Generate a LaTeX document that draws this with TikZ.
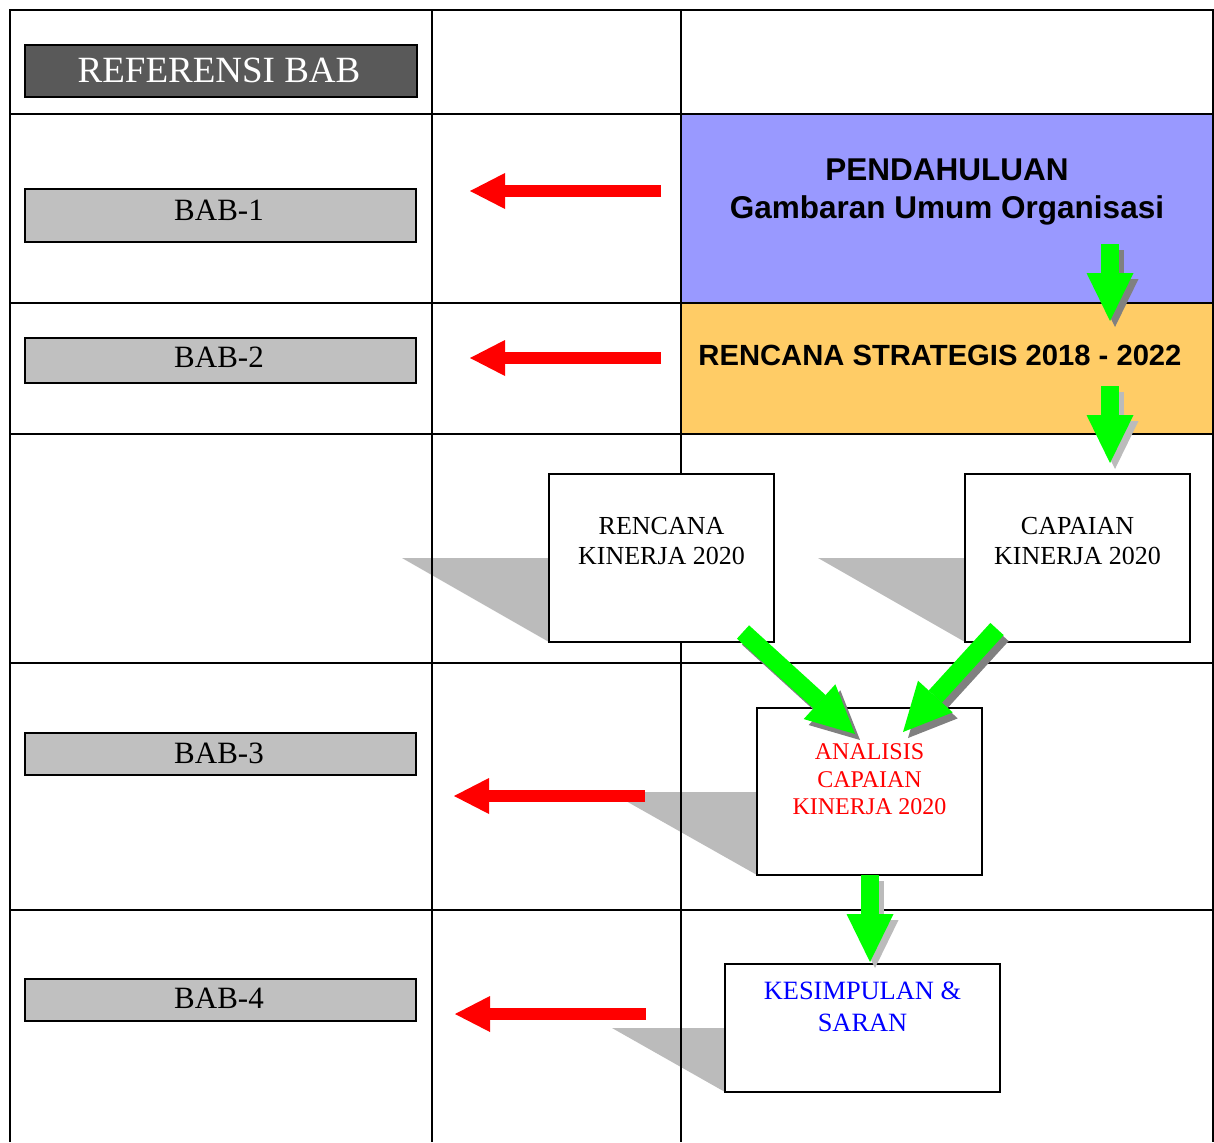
\documentclass[tikz,border=0pt]{standalone}
\usepackage{fontspec}
\setmainfont{Liberation Serif}
\newfontfamily\arialfont{Liberation Sans}
\usetikzlibrary{arrows.meta}
\definecolor{purp}{HTML}{9999FF}
\definecolor{oran}{HTML}{FFCC66}
\definecolor{grn}{HTML}{00FF00}
\definecolor{babgray}{HTML}{C0C0C0}
\definecolor{refgray}{HTML}{595959}
\definecolor{shadegray}{HTML}{BBBBBB}
\definecolor{darkshade}{HTML}{808080}
\begin{document}
\begin{tikzpicture}[x=1pt,y=-1pt,
  grid/.style={draw=black, line width=2pt},
  babbox/.style={draw=black, line width=2pt, fill=babgray, inner sep=0pt, outer sep=0pt},
  refbox/.style={draw=black, line width=2pt, fill=refgray, inner sep=0pt, outer sep=0pt},
  wbox/.style={draw=black, line width=2pt, fill=white, inner sep=0pt, outer sep=0pt},
  babtext/.style={anchor=base, inner sep=0pt, font=\fontsize{31}{36}\selectfont},
  boxtext/.style={anchor=base, inner sep=0pt, font=\fontsize{26}{30}\selectfont},
  antext/.style={anchor=base, inner sep=0pt, text=red, font=\fontsize{24}{28}\selectfont},
  kstext/.style={anchor=base, inner sep=0pt, text=blue, font=\fontsize{26.4}{31}\selectfont},
  headtext/.style={anchor=base, inner sep=0pt, font=\arialfont\bfseries\fontsize{31.5}{37}\selectfont},
  boxshadow/.style={fill=shadegray, draw=none},
  redarr/.style={draw=red, line width=12pt, -{Triangle[length=35pt, width=36pt, line width=0pt]}},
  garrow/.style={draw=grn, line width=18pt, -{Triangle[length=48pt, width=47pt, line width=0pt]}},
  gshadow/.style={garrow, draw=#1, transform canvas={shift={(5,6)}}}
]
\useasboundingbox (0,0) rectangle (1214,1142);
\fill[white] (0,0) rectangle (1214,1142);

% coloured cells
\fill[purp] (681,114) rectangle (1213,303);
\fill[oran] (681,303) rectangle (1213,434);

% box shadows
\fill[boxshadow] (402,558) -- (549,558) -- (549,642) -- cycle;
\fill[boxshadow] (818,558) -- (965,558) -- (965,642) -- cycle;
\fill[boxshadow] (610,792) -- (757,792) -- (757,875) -- cycle;
\fill[boxshadow] (612,1028) -- (725,1028) -- (725,1092) -- cycle;

% table grid
\draw[grid] (10,1142) -- (10,10) -- (1213,10) -- (1213,1142);
\draw[grid] (432,10) -- (432,1142);
\draw[grid] (681,10) -- (681,1142);
\foreach \yy in {114,303,434,663,910} \draw[grid] (10,\yy) -- (1213,\yy);

% left column boxes
\node[refbox, minimum width=392pt, minimum height=52pt] (ref) at (221,71) {};
\node[babtext, text=white, font=\fontsize{37}{42}\selectfont] (reft) at (219,83) {REFERENSI BAB};
\node[babbox, minimum width=391pt, minimum height=53pt] (bab1) at (220.5,215.5) {};
\node[babtext] (bab1t) at (219,220) {BAB-1};
\node[babbox, minimum width=391pt, minimum height=45pt] (bab2) at (220.5,360.5) {};
\node[babtext] (bab2t) at (219,367) {BAB-2};
\node[babbox, minimum width=391pt, minimum height=42pt] (bab3) at (220.5,754) {};
\node[babtext] (bab3t) at (219,763) {BAB-3};
\node[babbox, minimum width=391pt, minimum height=42pt] (bab4) at (220.5,1000) {};
\node[babtext] (bab4t) at (219,1008) {BAB-4};

% headings in coloured cells
\node[headtext] (pend1) at (947,181) {PENDAHULUAN};
\node[headtext] (pend2) at (947,218) {Gambaran Umum Organisasi};
\node[headtext, font=\arialfont\bfseries\fontsize{29.2}{34}\selectfont] (renstra) at (940,365) {RENCANA STRATEGIS 2018 - 2022};

% white boxes
\node[wbox, minimum width=225pt, minimum height=168pt] (rk) at (661.5,558) {};
\node[boxtext] (rk1) at (661.5,534) {RENCANA};
\node[boxtext] (rk2) at (661.5,564) {KINERJA 2020};
\node[wbox, minimum width=225pt, minimum height=168pt] (ck) at (1077.5,558) {};
\node[boxtext] (ck1) at (1077.5,534) {CAPAIAN};
\node[boxtext] (ck2) at (1077.5,564) {KINERJA 2020};
\node[wbox, minimum width=225pt, minimum height=167pt] (an) at (869.5,791.5) {};
\node[antext] (an1) at (869.5,759) {ANALISIS};
\node[antext] (an2) at (869.5,787) {CAPAIAN};
\node[antext] (an3) at (869.5,814) {KINERJA 2020};
\node[wbox, minimum width=275pt, minimum height=128pt] (ks) at (862.5,1028) {};
\node[kstext] (ks1) at (862.5,999) {KESIMPULAN \&};
\node[kstext] (ks2) at (862.5,1031) {SARAN};

% arrow end points
\coordinate (g1s) at (1110,244); \coordinate (g1t) at (1110,321);
\coordinate (g2s) at (1110,386); \coordinate (g2t) at (1110,463);
\coordinate (g3s) at (870,875);  \coordinate (g3t) at (870,962);
\coordinate (g4s) at (743,632);  \coordinate (g4t) at (855,734);
\coordinate (g5s) at (997,629);  \coordinate (g5t) at (903,732);
\coordinate (r1s) at (661,191);  \coordinate (r1t) at (470,191);
\coordinate (r2s) at (661,358);  \coordinate (r2t) at (470,358);
\coordinate (r3s) at (645,796);  \coordinate (r3t) at (454,796);
\coordinate (r4s) at (646,1014); \coordinate (r4t) at (455,1014);

% green arrows with shadows
\draw[gshadow=darkshade] (g1s) -- (g1t);
\draw[garrow] (g1s) -- (g1t);
\draw[gshadow=shadegray] (g2s) -- (g2t);
\draw[garrow] (g2s) -- (g2t);
\draw[gshadow=shadegray] (g3s) -- (g3t);
\draw[garrow] (g3s) -- (g3t);
\draw[gshadow=darkshade] (g4s) -- (g4t);
\draw[garrow] (g4s) -- (g4t);
\draw[gshadow=darkshade] (g5s) -- (g5t);
\draw[garrow] (g5s) -- (g5t);

% red arrows
\draw[redarr] (r1s) -- (r1t);
\draw[redarr] (r2s) -- (r2t);
\draw[redarr] (r3s) -- (r3t);
\draw[redarr] (r4s) -- (r4t);
\end{tikzpicture}
\end{document}
